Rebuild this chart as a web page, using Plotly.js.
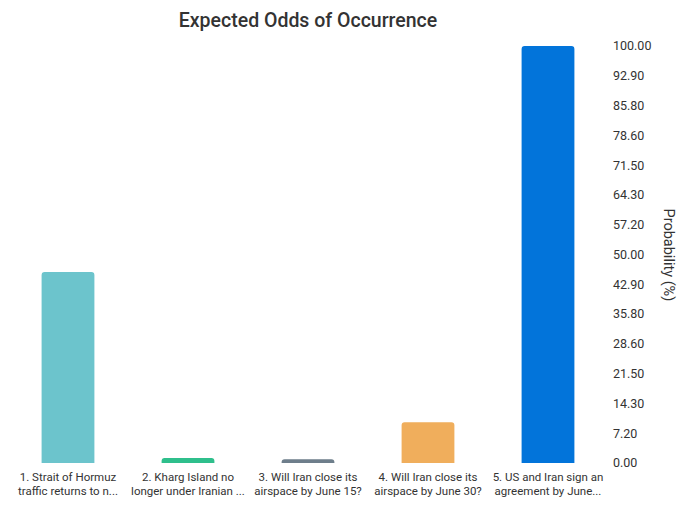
<!DOCTYPE html>
<html>
<head>
<meta charset="utf-8">
<script src="https://cdn.plot.ly/plotly-3.0.1.min.js"></script>
<style>html,body{margin:0;padding:0;background:#fff;}#chart{width:680px;height:510px;}</style>
</head>
<body>
<div id="chart"></div>
<script>
const categories = [
  "1. Strait of Hormuz<br>traffic returns to n...",
  "2. Kharg Island no<br>longer under Iranian ...",
  "3. Will Iran close its<br>airspace by June 15?",
  "4. Will Iran close its<br>airspace by June 30?",
  "5. US and Iran sign an<br>agreement by June..."
];
const probabilities = [45.8, 1.2, 0.9, 9.8, 100];
const barColors = ["#6cc4cc", "#2fbf8c", "#6e7e8b", "#f0ae5c", "#0274da"];
const tickValues = [0, 7.142857, 14.285714, 21.428571, 28.571429, 35.714286, 42.857143, 50, 57.142857, 64.285714, 71.428571, 78.571429, 85.714286, 92.857143, 100];
const tickLabels = ["0.00", "7.20", "14.30", "21.50", "28.60", "35.80", "42.90", "50.00", "57.20", "64.30", "71.50", "78.60", "85.80", "92.90", "100.00"];

const trace = {
  type: "bar",
  x: categories,
  y: probabilities,
  marker: { color: barColors, cornerradius: 3, line: { width: 0 } },
  hoverinfo: "x+y"
};

const layout = {
  width: 680,
  height: 510,
  margin: { l: 8, r: 72, t: 46, b: 47 },
  paper_bgcolor: "#fff",
  plot_bgcolor: "#fff",
  font: { family: "Roboto, sans-serif", color: "#333" },
  showlegend: false,
  bargap: 0.56,
  title: {
    text: "Expected Odds of Occurrence",
    font: { size: 19.5, color: "#333333", family: "Roboto, sans-serif", weight: 500 },
    x: 0.5, xanchor: "center", y: 0.96, yanchor: "middle", xref: "paper", yref: "container"
  },
  xaxis: {
    type: "category",
    showgrid: false, zeroline: false, showline: false, ticks: "",
    tickfont: { size: 11.5, color: "#333" },
    tickangle: 0,
    ticklabelstandoff: 5
  },
  yaxis: {
    side: "right",
    range: [0, 100],
    showgrid: false, zeroline: false, showline: false, ticks: "",
    tickmode: "array",
    tickvals: tickValues,
    ticktext: tickLabels,
    tickfont: { size: 12.5, color: "#333" },
    ticklabelstandoff: 4
  },
  annotations: [{
    text: "Probability (%)",
    xref: "paper", yref: "paper",
    x: 1, xshift: 60, y: 0.5,
    xanchor: "center", yanchor: "middle",
    textangle: 90,
    showarrow: false,
    font: { size: 14.5, color: "#333" }
  }]
};

Plotly.newPlot("chart", [trace], layout, { displayModeBar: false, staticPlot: true });
</script>
</body>
</html>
